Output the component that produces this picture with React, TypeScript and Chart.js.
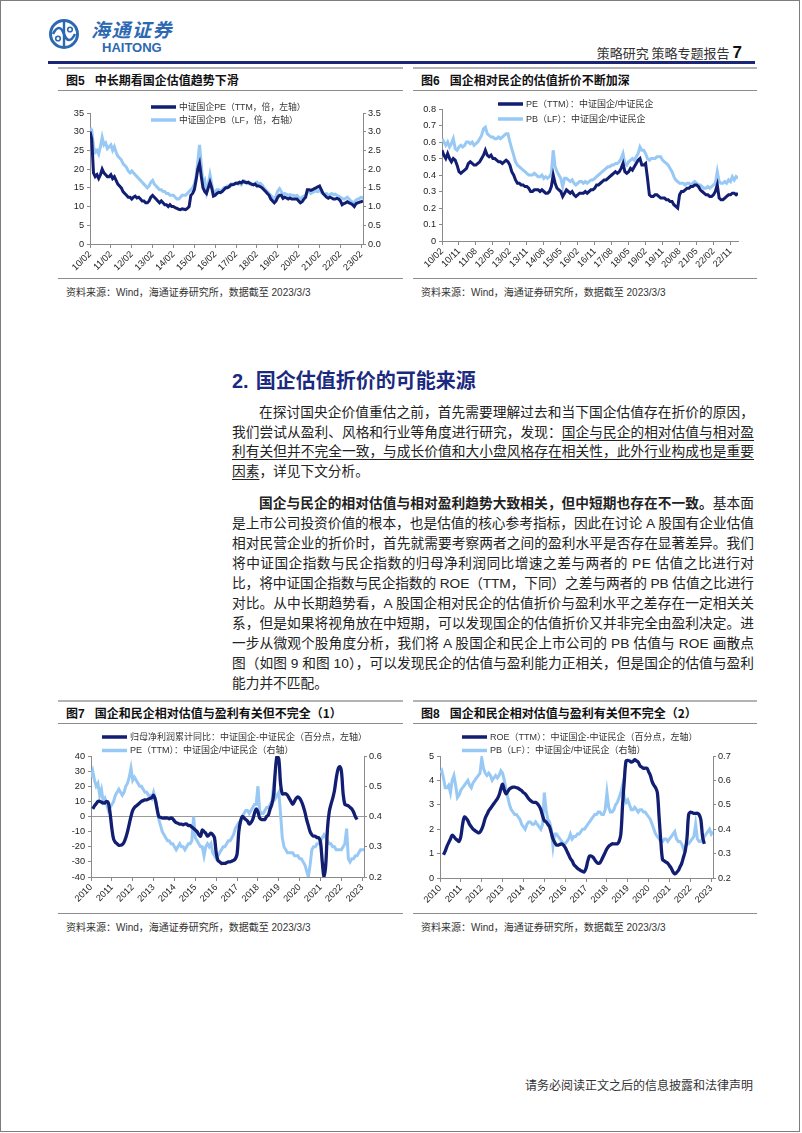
import React, { useEffect, useLayoutEffect, useRef } from 'react';
import { Chart, registerables } from 'chart.js';

Chart.register(...registerables);

// ---------------- DATA ----------------
// Figure 5: monthly, index 0 = 2010-02 ... 157 = 2023-03
const C5_XLABELS = ['10/02', '11/02', '12/02', '13/02', '14/02', '15/02', '16/02', '17/02', '18/02', '19/02', '20/02', '21/02', '22/02', '23/02'];
const C5_PE = [
  30, 28, 19, 18, 18.5, 17.5, 18.5, 20, 19, 18.5, 18,
  18, 18.5, 17.5, 18, 17, 16, 15.5, 15, 14, 13.5, 13, 12.5,
  12.5, 12, 12.5, 12.8, 12.3, 12.5, 12, 11.5, 11.5, 11, 11, 11.5,
  12.5, 13, 12.5, 12, 11.5, 11, 11.5, 11, 10.5, 10.5, 10, 10.5,
  10, 10, 9.7, 9.5, 9.3, 9.2, 9.4, 9.3, 9.2, 9.5, 10, 13,
  13.5, 14.5, 17, 20, 21.5, 18, 15, 14, 13.5, 15, 16.5, 15,
  12.8, 13, 13.5, 13.8, 13.7, 14, 14.5, 15, 15, 15.3, 15.8, 15.8,
  16, 16.3, 16.2, 16.5, 16.3, 16.8, 16.5, 16.3, 16.5, 16.2, 16, 15.8,
  16, 15.5, 15.5, 15.3, 15, 14.5, 14, 13.5, 13, 12, 11.5, 11,
  11.5, 12.5, 13, 13, 12.2, 12.5, 12.3, 12, 12.3, 12, 12, 12,
  12, 11.5, 11, 11.3, 12, 12.5, 14.5, 14.5, 14.3, 14.5, 14.8, 15,
  15.3, 15.5, 14.5, 13.5, 13, 12.5, 12.2, 12.5, 12.3, 12, 12, 12.2,
  12, 11.5, 10.5, 10.8, 11, 11.3, 11, 10.8, 10.5, 10, 10.8, 11,
  11.2, 11.3, 11.5,
];
const C5_PB = [
  3.1, 3.05, 2.6, 2.45, 2.5, 2.4, 2.6, 2.85, 2.65, 2.7, 2.55,
  2.6, 2.65, 2.5, 2.6, 2.45, 2.35, 2.3, 2.25, 2.15, 2.1, 2.05, 1.95,
  1.9, 1.95, 1.9, 1.85, 1.8, 1.75, 1.7, 1.65, 1.6, 1.55, 1.5, 1.55,
  1.65, 1.7, 1.6, 1.55, 1.5, 1.45, 1.45, 1.4, 1.4, 1.35, 1.35, 1.3,
  1.3, 1.3, 1.25, 1.2, 1.2, 1.25, 1.3, 1.3, 1.3, 1.35, 1.4, 1.45,
  1.5, 1.6, 1.8, 2.2, 2.65, 2.1, 1.6, 1.7, 1.4, 1.6, 1.85, 1.6,
  1.35, 1.4, 1.45, 1.45, 1.4, 1.45, 1.5, 1.5, 1.55, 1.55, 1.6, 1.6,
  1.6, 1.62, 1.6, 1.62, 1.58, 1.65, 1.68, 1.65, 1.62, 1.6, 1.58, 1.6,
  1.62, 1.65, 1.6, 1.62, 1.58, 1.5, 1.45, 1.4, 1.35, 1.3, 1.25, 1.2,
  1.28, 1.42, 1.48, 1.4, 1.32, 1.35, 1.33, 1.3, 1.32, 1.3, 1.3, 1.28,
  1.3, 1.25, 1.2, 1.25, 1.28, 1.3, 1.38, 1.4, 1.35, 1.38, 1.4, 1.42,
  1.4, 1.45, 1.38, 1.35, 1.33, 1.35, 1.3, 1.32, 1.35, 1.32, 1.33, 1.3,
  1.28, 1.25, 1.22, 1.2, 1.22, 1.25, 1.2, 1.15, 1.12, 1.1, 1.18, 1.2,
  1.22, 1.25, 1.23,
];

// Figure 6: monthly, index 0 = 2010-02 ... 157 = 2023-03
const C6_XLABELS = ['10/02', '10/11', '11/08', '12/05', '13/02', '13/11', '14/08', '15/05', '16/02', '16/11', '17/08', '18/05', '19/02', '19/11', '20/08', '21/05', '22/02', '22/11'];
const C6_PE = [
  0.55, 0.52, 0.5, 0.53, 0.5, 0.48, 0.5, 0.49, 0.46, 0.42, 0.41,
  0.42, 0.43, 0.44, 0.47, 0.48, 0.47, 0.46, 0.46, 0.47, 0.48, 0.5, 0.52,
  0.55, 0.52, 0.51, 0.52, 0.5, 0.5, 0.49, 0.48, 0.48, 0.47, 0.48, 0.49,
  0.48, 0.46, 0.42, 0.4, 0.37, 0.35, 0.35, 0.34, 0.34, 0.33, 0.33, 0.32,
  0.3, 0.3, 0.31, 0.31, 0.31, 0.3, 0.31, 0.3, 0.29, 0.29, 0.3, 0.33,
  0.4, 0.35, 0.32, 0.31, 0.3, 0.27, 0.29, 0.31, 0.3, 0.29, 0.3, 0.28,
  0.27, 0.28, 0.29, 0.29, 0.29, 0.3, 0.29, 0.3, 0.31, 0.31, 0.32, 0.34,
  0.34, 0.35, 0.36, 0.37, 0.37, 0.38, 0.39, 0.4, 0.41, 0.42, 0.41, 0.42,
  0.44, 0.47, 0.42, 0.41, 0.42, 0.44, 0.43, 0.45, 0.47, 0.49, 0.5, 0.46,
  0.46, 0.47, 0.38, 0.28, 0.27, 0.27, 0.28, 0.28, 0.27, 0.26, 0.26, 0.26,
  0.25, 0.25, 0.24, 0.24, 0.22, 0.21, 0.2, 0.28, 0.3, 0.3, 0.31, 0.32,
  0.32, 0.33, 0.33, 0.34, 0.34, 0.33, 0.31, 0.3, 0.29, 0.28, 0.28, 0.27,
  0.27, 0.28, 0.3, 0.34, 0.26, 0.25, 0.25, 0.26, 0.27, 0.28, 0.28, 0.29,
  0.29, 0.28, 0.29,
];
const C6_PB = [
  0.62, 0.6, 0.58, 0.6, 0.57, 0.59, 0.62, 0.56, 0.55, 0.57, 0.58,
  0.57, 0.58, 0.6, 0.6, 0.59, 0.6, 0.58, 0.59, 0.6, 0.62, 0.64, 0.68,
  0.69, 0.65, 0.64, 0.63, 0.63, 0.62, 0.62, 0.63, 0.62, 0.63, 0.64, 0.65,
  0.65, 0.6, 0.56, 0.52, 0.48, 0.46, 0.45, 0.44, 0.43, 0.42, 0.41, 0.4,
  0.4, 0.4, 0.41, 0.4, 0.39, 0.39, 0.4, 0.38, 0.39, 0.38, 0.39, 0.41,
  0.55, 0.45, 0.42, 0.4, 0.38, 0.33, 0.38, 0.38, 0.37, 0.36, 0.37, 0.35,
  0.34, 0.35, 0.36, 0.36, 0.35, 0.36, 0.35, 0.36, 0.37, 0.37, 0.38, 0.39,
  0.4, 0.41, 0.42, 0.43, 0.44, 0.45, 0.45, 0.46, 0.46, 0.47, 0.47, 0.48,
  0.5, 0.53, 0.47, 0.46, 0.48, 0.49, 0.5, 0.49, 0.51, 0.53, 0.57, 0.55,
  0.55, 0.53, 0.5, 0.49, 0.5, 0.5, 0.5, 0.51, 0.51, 0.51, 0.49, 0.48,
  0.47, 0.46, 0.44, 0.42, 0.39, 0.37, 0.36, 0.35, 0.35, 0.35, 0.34, 0.35,
  0.35, 0.34, 0.35, 0.36, 0.35, 0.34, 0.34, 0.33, 0.32, 0.32, 0.33, 0.32,
  0.33, 0.34, 0.35, 0.42, 0.36, 0.35, 0.35, 0.36, 0.35, 0.37, 0.36, 0.39,
  0.37, 0.39, 0.38,
];

// Figures 7 & 8: monthly, index 0 = 2010-01 ... 157 = 2023-02
const YEAR_LABELS = ['2010', '2011', '2012', '2013', '2014', '2015', '2016', '2017', '2018', '2019', '2020', '2021', '2022', '2023'];
const C7_PROFIT = [
  null, 5, 7, 8.5, 10, 10, 9.5, 9, 9, 10, 9, 2,
  -8, -15, -17, -18, -19, -19, -18.5, -17, -14, -10, -5, 0,
  4, 6, 7, 8, 9, 10, 10.5, 11, 11, 11.5, 12, 12.5,
  14, 11, 5, 0, -0.5, -1, -1, -1, -1, -1.5, -1, -1.5,
  -3, -4, -4.5, -5, -5, -5.5, -5, -5, -6, -6, -7, -8,
  -9, -10, -12, -13, -9, -10, -11, -13, -12, -11, -12, -14,
  -24, -29, -30, -31, -31, -31, -30.5, -30, -30, -29.5, -29, -28,
  -25, -10, -3, 0, -1, -2, -3, -5, -4, -2, 2, 5,
  3, -1, -2, -2, -2, 0, 1, 5, 8, 14, 30, 40,
  38, 22, 15, 15, 15, 14, 12, 10, 8, 10, 12, 13,
  12, 10, 7, 3, -2, -6, -10, -12, -13, -13, -14, -14,
  -17, -30, -40, -32, -8, 3, 8, 12, 17, 25, 31, 33,
  30, 15, 8, 7.5, 7, 6, 5, 3, 0, -2, null, null,
  null, null,
];
const C7_PE = [
  0.53, 0.55, 0.52, 0.5, 0.51, 0.47, 0.49, 0.45, 0.46, 0.44, 0.42, 0.43,
  0.44, 0.45, 0.47, 0.48, 0.49, 0.48, 0.47, 0.48, 0.5, 0.51, 0.53, 0.56,
  0.52, 0.53, 0.52, 0.51, 0.5, 0.5, 0.49, 0.48, 0.48, 0.47, 0.47, 0.46,
  0.48, 0.46, 0.43, 0.39, 0.37, 0.35, 0.34, 0.33, 0.32, 0.32, 0.31, 0.31,
  0.3, 0.29, 0.3, 0.31, 0.3, 0.3, 0.29, 0.3, 0.31, 0.31, 0.32, 0.4,
  0.33, 0.32, 0.31, 0.3, 0.3, 0.27, 0.3, 0.31, 0.3, 0.31, 0.28, 0.27,
  0.26, 0.27, 0.28, 0.29, 0.3, 0.3, 0.31, 0.32, 0.32, 0.33, 0.34, 0.36,
  0.37, 0.38, 0.38, 0.4, 0.41, 0.42, 0.42, 0.41, 0.42, 0.43, 0.44, 0.44,
  0.5, 0.42, 0.41, 0.41, 0.42, 0.43, 0.43, 0.44, 0.45, 0.5, 0.46, 0.47,
  0.48, 0.41, 0.33, 0.3, 0.29, 0.28, 0.28, 0.28, 0.28, 0.27, 0.27, 0.27,
  0.26, 0.26, 0.25, 0.24, 0.22, 0.2, 0.24, 0.29, 0.3, 0.3, 0.31, 0.31,
  0.32, 0.33, 0.34, 0.33, 0.32, 0.31, 0.31, 0.3, 0.3, 0.29, 0.29, 0.29,
  0.29, 0.3, 0.31, 0.36, 0.26, 0.25, 0.26, 0.26, 0.27, 0.27, 0.28, 0.29,
  0.29, 0.29,
];
const C8_ROE = [
  null, null, 0.95, 1.1, 1.3, 1.45, 1.6, 1.75, 1.7, 1.6, 1.55, 1.5,
  1.7, 2.2, 2.5, 2.45, 2.35, 2.2, 2.1, 2.0, 1.95, 1.9, 1.85, 1.88,
  2.0, 2.2, 2.45, 2.6, 2.75, 2.85, 2.95, 3.05, 3.15, 3.25, 3.4, 3.65,
  3.85, 3.6, 3.45, 3.55, 3.65, 3.7, 3.72, 3.72, 3.7, 3.68, 3.62, 3.58,
  3.5, 3.45, 3.35, 3.25, 3.18, 3.12, 3.1, 3.1, 3.05, 2.95, 2.8, 2.55,
  2.35, 2.3, 2.2, 2.1, 1.85, 1.6, 1.45, 1.35, 1.35, 1.38, 1.4, 1.35,
  1.25, 1.1, 0.95, 0.8, 0.7, 0.55, 0.48, 0.4, 0.35, 0.3, 0.27, 0.25,
  0.4, 0.7, 0.9, 0.9, 0.85, 0.75, 0.65, 0.6, 0.62, 0.75, 0.9, 1.05,
  1.2, 1.3, 1.35, 1.4, 1.4, 1.4, 1.4, 1.5, 1.8, 3.0, 4.0, 4.8,
  4.82, 4.8, 4.75, 4.78, 4.85, 4.8, 4.75, 4.6, 4.55, 4.5, 4.5, 4.5,
  4.35, 4.2, 3.95, 3.8, 3.7, 3.5, 2.5, 1.5, 0.75, 0.7, 0.65, 0.6,
  0.5, 0.4, 0.25, 0.17, 0.22, 0.3, 0.45, 0.6, 0.85, 1.1, 1.6, 2.6,
  2.7, 2.68, 2.65, 2.65, 2.65, 2.6, 2.4, 1.7, 1.4, null, null, null,
  null, null,
];
const C8_PB = [
  0.63, 0.64, 0.61, 0.57, 0.57, 0.58, 0.55, 0.6, 0.62, 0.58, 0.53, 0.54,
  0.56, 0.57, 0.58, 0.59, 0.6, 0.58, 0.57, 0.59, 0.6, 0.61, 0.62, 0.63,
  0.69, 0.65, 0.63, 0.62, 0.63, 0.62, 0.6, 0.61, 0.62, 0.61, 0.62, 0.64,
  0.63, 0.6, 0.56, 0.53, 0.5, 0.48, 0.47, 0.46, 0.46, 0.45, 0.44, 0.42,
  0.41, 0.4, 0.42, 0.43, 0.43, 0.42, 0.42, 0.43, 0.42, 0.41, 0.4, 0.42,
  0.55, 0.48, 0.44, 0.43, 0.4, 0.33, 0.38, 0.38, 0.37, 0.36, 0.35, 0.34,
  0.34, 0.35, 0.36, 0.38, 0.36, 0.37, 0.37, 0.38, 0.38, 0.39, 0.4, 0.4,
  0.41, 0.42, 0.43, 0.44, 0.45, 0.46, 0.46, 0.47, 0.47, 0.46, 0.46, 0.48,
  0.55, 0.49, 0.47, 0.47, 0.48, 0.5, 0.51, 0.53, 0.55, 0.58, 0.53, 0.51,
  0.52, 0.5, 0.48, 0.48, 0.49, 0.48, 0.47, 0.48, 0.48, 0.47, 0.47, 0.46,
  0.45, 0.44, 0.42, 0.4, 0.38, 0.37, 0.36, 0.35, 0.35, 0.36, 0.36, 0.35,
  0.36, 0.37, 0.38, 0.39, 0.36, 0.35, 0.35, 0.34, 0.32, 0.33, 0.34, 0.34,
  0.35, 0.36, 0.37, 0.42, 0.36, 0.35, 0.35, 0.36, 0.37, 0.38, 0.39, 0.4,
  0.38, 0.39,
];

// ---------------- STYLE ----------------
const NAVY = '#111e72';
const LIGHT = '#98c8f4';
const AXIS = '#8a8a8a';
const TICK_COLOR = '#222';
const NUM_FONT = "'Liberation Sans', Arial, sans-serif";
const MIX_FONT = "'Liberation Sans', 'Noto Sans CJK SC', sans-serif";
const CJK_FONT = "'Noto Sans CJK SC', 'Liberation Sans', sans-serif";
const TICK_SIZE = 9.2;

const toXY = (arr: (number | null)[]) => arr.map((v, i) => ({ x: i, y: v }));

const legendPlugin = {
  id: 'customLegend',
  afterDraw(chart: any, _args: any, opts: any) {
    const { ctx } = chart;
    ctx.save();
    chart.data.datasets.forEach((ds: any, i: number) => {
      const y = opts.y + i * opts.rowH;
      ctx.strokeStyle = ds.borderColor;
      ctx.lineWidth = 3.5;
      ctx.lineCap = 'butt';
      ctx.beginPath();
      ctx.moveTo(opts.x, y);
      ctx.lineTo(opts.x + 25, y);
      ctx.stroke();
      ctx.fillStyle = '#333';
      ctx.font = `${opts.size}px ${MIX_FONT}`;
      ctx.textBaseline = 'middle';
      ctx.textAlign = 'left';
      ctx.fillText(ds.label, opts.x + 28, y + 0.5);
    });
    ctx.restore();
  },
};

function xAxis(labels: string[], step: number, max: number, height: number) {
  return {
    type: 'linear',
    min: 0,
    max,
    afterBuildTicks: (ax: any) => {
      ax.ticks = labels.map((_l, i) => ({ value: i * step }));
    },
    afterFit: (ax: any) => {
      ax.height = height;
    },
    ticks: {
      autoSkip: false,
      maxRotation: 45,
      minRotation: 45,
      padding: 1,
      color: TICK_COLOR,
      font: { family: NUM_FONT, size: TICK_SIZE },
      callback: (_v: any, i: number) => labels[i],
    },
    grid: { display: true, drawOnChartArea: false, tickLength: 4, tickColor: AXIS, color: AXIS },
    border: { display: true, color: AXIS, width: 1 },
  };
}

function yAxis(position: string, min: number, max: number, step: number, width: number, decimals: number | null, zeroLine = false) {
  return {
    type: 'linear',
    position,
    min,
    max,
    afterFit: (ax: any) => {
      ax.width = width;
    },
    ticks: {
      stepSize: step,
      padding: position === 'left' ? 3 : 2,
      color: TICK_COLOR,
      font: { family: NUM_FONT, size: TICK_SIZE },
      callback: (v: number) => (decimals === null ? String(Math.round(v * 100) / 100) : v.toFixed(decimals)),
    },
    grid: {
      display: true,
      drawOnChartArea: zeroLine,
      tickLength: 3,
      tickColor: AXIS,
      color: (c: any) => (zeroLine && c.tick && c.tick.value === 0 ? '#9a9a9a' : 'rgba(0,0,0,0)'),
    },
    border: { display: true, color: AXIS, width: 1 },
  };
}

function lineDs(label: string, values: (number | null)[], color: string, axis: string, tension = 0, width = 3) {
  return {
    label,
    data: toXY(values),
    borderColor: color,
    backgroundColor: color,
    borderWidth: width,
    pointRadius: 0,
    tension,
    yAxisID: axis,
    spanGaps: false,
  };
}

function baseOptions(padding: any, legend: any, scales: any) {
  return {
    responsive: false,
    maintainAspectRatio: false,
    animation: false,
    events: [],
    layout: { padding },
    plugins: { legend: { display: false }, tooltip: { enabled: false }, customLegend: legend },
    scales,
  };
}

const config5 = () => ({
  type: 'line',
  data: {
    datasets: [
      lineDs('中证国企PE（TTM，倍，左轴）', C5_PE, NAVY, 'y'),
      lineDs('中证国企PB（LF，倍，右轴）', C5_PB, LIGHT, 'y2'),
    ],
  },
  options: baseOptions({ top: 18, left: 0, right: 0, bottom: 0 }, { x: 91, y: 12, rowH: 13, size: 8.8 }, {
    x: xAxis(C5_XLABELS, 12, 157, 31),
    y: yAxis('left', 0, 35, 5, 30, 0),
    y2: yAxis('right', 0, 3.5, 0.5, 27, 1),
  }),
  plugins: [legendPlugin],
});

const config6 = () => ({
  type: 'line',
  data: {
    datasets: [
      lineDs('PE（TTM）：中证国企/中证民企', C6_PE, NAVY, 'y'),
      lineDs('PB（LF）：中证国企/中证民企', C6_PB, LIGHT, 'y'),
    ],
  },
  options: baseOptions({ top: 14, left: 0, right: 7, bottom: 0 }, { x: 88, y: 9, rowH: 15, size: 9 }, {
    x: xAxis(C6_XLABELS, 9, 157, 34),
    y: yAxis('left', 0, 0.8, 0.1, 32, null),
  }),
  plugins: [legendPlugin],
});

const config7 = () => ({
  type: 'line',
  data: {
    datasets: [
      lineDs('归母净利润累计同比：中证国企-中证民企（百分点，左轴）', C7_PROFIT, NAVY, 'y', 0.35, 3.3),
      lineDs('PE（TTM）：中证国企/中证民企（右轴）', C7_PE, LIGHT, 'y2'),
    ],
  },
  options: baseOptions({ top: 28, left: 0, right: 0, bottom: 0 }, { x: 42, y: 9, rowH: 13.5, size: 9 }, {
    x: xAxis(YEAR_LABELS, 12, 157, 31),
    y: yAxis('left', -40, 40, 10, 31, 0, true),
    y2: yAxis('right', 0.2, 0.6, 0.1, 26, 1),
  }),
  plugins: [legendPlugin],
});

const config8 = () => ({
  type: 'line',
  data: {
    datasets: [
      lineDs('ROE（TTM）：中证国企-中证民企（百分点，左轴）', C8_ROE, NAVY, 'y', 0.35, 3.3),
      lineDs('PB（LF）：中证国企/中证民企（右轴）', C8_PB, LIGHT, 'y2'),
    ],
  },
  options: baseOptions({ top: 28, left: 0, right: 0, bottom: 0 }, { x: 52, y: 9, rowH: 13.5, size: 9 }, {
    x: xAxis(YEAR_LABELS, 12, 157, 30),
    y: yAxis('left', 0, 5, 1, 30, 0),
    y2: yAxis('right', 0.2, 0.7, 0.1, 32, 1),
  }),
  plugins: [legendPlugin],
});

function ChartCanvas({ make, left, top, width, height }: { make: () => any; left: number; top: number; width: number; height: number }) {
  const ref = useRef<HTMLCanvasElement>(null);
  useEffect(() => {
    const chart = new Chart(ref.current as HTMLCanvasElement, make());
    return () => chart.destroy();
  }, []);
  return <canvas ref={ref} width={width} height={height} style={{ position: 'absolute', left, top, width, height }} />;
}

// ---------------- PAGE PIECES ----------------
const abs = (o: any) => ({ position: 'absolute', ...o });

function Panel({ left, width, top, titleNo, title, bottom }: any) {
  return (
    <>
      <div style={abs({ left, top, width, height: 2, background: '#b4b4b4' })} />
      <div style={abs({ left: left + 8, top: top + 4, height: 18, lineHeight: '18px', fontSize: 12, fontWeight: 700, color: '#111', whiteSpace: 'nowrap', fontFamily: CJK_FONT })}>
        <span>{'图'}</span>
        <span style={{ fontFamily: NUM_FONT }}>{titleNo}</span>
        <span style={{ marginLeft: 10 }}>{title}</span>
      </div>
      <div style={abs({ left, top: top + 23, width, height: 1, background: '#8c8c8c' })} />
      <div style={abs({ left, top: bottom, width, height: 1, background: '#8c8c8c' })} />
      <div style={abs({ left: left + 8, top: bottom + 8, height: 14, lineHeight: '14px', fontSize: 10, color: '#333', whiteSpace: 'nowrap', fontFamily: MIX_FONT })}>
        资料来源：Wind，海通证券研究所，数据截至 2023/3/3
      </div>
    </>
  );
}

type Seg = { t: string; u?: boolean; b?: boolean };
const P1: Seg[][] = [
  [{ t: '在探讨国央企价值重估之前，首先需要理解过去和当下国企估值存在折价的原因，' }],
  [{ t: '我们尝试从盈利、风格和行业等角度进行研究，发现：' }, { t: '国企与民企的相对估值与相对盈', u: true }],
  [{ t: '利有关但并不完全一致，与成长价值和大小盘风格存在相关性，此外行业构成也是重要', u: true }],
  [{ t: '因素', u: true }, { t: '，详见下文分析。' }],
];
const P2: Seg[][] = [
  [{ t: '国企与民企的相对估值与相对盈利趋势大致相关，但中短期也存在不一致。', b: true }, { t: '基本面' }],
  [{ t: '是上市公司投资价值的根本，也是估值的核心参考指标，因此在讨论 A 股国有企业估值' }],
  [{ t: '相对民营企业的折价时，首先就需要考察两者之间的盈利水平是否存在显著差异。我们' }],
  [{ t: '将中证国企指数与民企指数的归母净利润同比增速之差与两者的 PE 估值之比进行对' }],
  [{ t: '比，将中证国企指数与民企指数的 ROE（TTM，下同）之差与两者的 PB 估值之比进行' }],
  [{ t: '对比。从中长期趋势看，A 股国企相对民企的估值折价与盈利水平之差存在一定相关关' }],
  [{ t: '系，但是如果将视角放在中短期，可以发现国企的估值折价又并非完全由盈利决定。进' }],
  [{ t: '一步从微观个股角度分析，我们将 A 股国企和民企上市公司的 PB 估值与 ROE 画散点' }],
  [{ t: '图（如图 9 和图 10），可以发现民企的估值与盈利能力正相关，但是国企的估值与盈利' }],
  [{ t: '能力并不匹配。' }],
];

const TEXT_LEFT = 232;
const TEXT_WIDTH = 522;
const INDENT = 27;

// fits each full line exactly to the text column (justified look) by tuning letter spacing
function JustLine({ segs, top, lh, first, last }: { segs: Seg[]; top: number; lh: number; first: boolean; last: boolean }) {
  const inner = useRef<HTMLSpanElement>(null);
  useLayoutEffect(() => {
    const el = inner.current;
    if (!el || last) return;
    const fit = () => {
      el.style.letterSpacing = '0px';
      el.style.marginRight = '0px';
      const w = el.getBoundingClientRect().width;
      const avail = TEXT_WIDTH - (first ? INDENT : 0);
      const n = segs.reduce((a, s) => a + Array.from(s.t).length, 0);
      const ls = (avail - w) / Math.max(1, n - 1);
      el.style.letterSpacing = `${ls}px`;
      el.style.marginRight = `${-ls}px`;
    };
    fit();
    (document as any).fonts?.ready?.then(fit);
  }, []);
  return (
    <div
      style={abs({
        left: TEXT_LEFT + (first ? INDENT : 0),
        top,
        height: lh,
        lineHeight: `${lh}px`,
        fontSize: 13.7,
        color: '#222',
        fontFamily: MIX_FONT,
        whiteSpace: 'nowrap',
        textAutospace: 'no-autospace',
      })}
    >
      <span ref={inner}>
        {segs.map((s, j) => (
          <span key={j} style={{ textDecoration: s.u ? 'underline' : 'none', textUnderlineOffset: 3, fontWeight: s.b ? 700 : 400 }}>
            {s.t}
          </span>
        ))}
      </span>
    </div>
  );
}

function Para({ lines, top, lh }: { lines: Seg[][]; top: number; lh: number }) {
  return (
    <>
      {lines.map((segs, i) => (
        <JustLine key={i} segs={segs} top={top + i * lh} lh={lh} first={i === 0} last={i === lines.length - 1} />
      ))}
    </>
  );
}

function Logo() {
  const c = '#2c69b2';
  return (
    <svg width={34} height={32} viewBox="0 0 34 32" style={abs({ left: 47, top: 18 })}>
      <circle cx={17} cy={16} r={13.5} fill="none" stroke={c} strokeWidth={3} />
      <path d="M6 16 C 10 8, 14 8, 17 16 C 20 24, 24 24, 28 16" fill="none" stroke={c} strokeWidth={2.6} />
      <path d="M17 4 L17 28" stroke={c} strokeWidth={2.4} />
      <circle cx={11} cy={20.5} r={2.3} fill="none" stroke={c} strokeWidth={1.6} />
      <circle cx={23} cy={11.5} r={2.3} fill="none" stroke={c} strokeWidth={1.6} />
    </svg>
  );
}

export default function App() {
  useEffect(() => {
    document.body.style.margin = '0';
  }, []);
  return (
    <div style={{ position: 'absolute', left: 0, top: 0, width: 802, height: 1133, background: '#fff', overflow: 'hidden' }}>
      <div style={abs({ left: 0, top: 0, width: 800, height: 1132, border: '1px solid #7d7d7d', boxSizing: 'border-box' })} />

      {/* header */}
      <Logo />
      <div style={abs({ left: 91, top: 18, fontSize: 19, lineHeight: '22px', color: '#2c69b2', fontStyle: 'italic', fontWeight: 700, letterSpacing: 1.5, fontFamily: CJK_FONT, whiteSpace: 'nowrap' })}>海通证券</div>
      <div style={abs({ left: 102, top: 41, fontSize: 13, lineHeight: '14px', color: '#2c69b2', fontWeight: 700, fontFamily: NUM_FONT })}>HAITONG</div>
      <div style={abs({ right: 60, top: 44, lineHeight: '18px', whiteSpace: 'nowrap', color: '#333' })}>
        <span style={{ fontSize: 13, fontFamily: CJK_FONT }}>策略研究 策略专题报告 </span>
        <span style={{ fontSize: 17, fontWeight: 700, fontFamily: NUM_FONT, color: '#111' }}>7</span>
      </div>
      <div style={abs({ left: 48, top: 61, width: 707, height: 2.5, background: '#1b2677' })} />

      {/* figure 5 & 6 */}
      <Panel left={58} width={345} top={67} titleNo="5" title="中长期看国企估值趋势下滑" bottom={278} />
      <Panel left={413} width={344} top={67} titleNo="6" title="国企相对民企的估值折价不断加深" bottom={278} />
      <ChartCanvas make={config5} left={60} top={95} width={330} height={180} />
      <ChartCanvas make={config6} left={410} top={95} width={335} height={180} />

      {/* section text */}
      <div style={abs({ left: 232, top: 366, height: 28, lineHeight: '28px', fontSize: 20, fontWeight: 700, color: '#1b2a80', whiteSpace: 'nowrap', fontFamily: CJK_FONT })}>
        <span style={{ fontFamily: NUM_FONT }}>2.</span>
        <span style={{ marginLeft: 7 }}>国企估值折价的可能来源</span>
      </div>
      <Para lines={P1} top={403} lh={19.7} />
      <Para lines={P2} top={494} lh={20} />

      {/* figure 7 & 8 */}
      <Panel left={58} width={345} top={700} titleNo="7" title="国企和民企相对估值与盈利有关但不完全（1）" bottom={913} />
      <Panel left={413} width={344} top={700} titleNo="8" title="国企和民企相对估值与盈利有关但不完全（2）" bottom={913} />
      <ChartCanvas make={config7} left={60} top={728} width={330} height={180} />
      <ChartCanvas make={config8} left={410} top={728} width={335} height={180} />

      {/* footer */}
      <div style={abs({ right: 49, top: 1077, fontSize: 12, lineHeight: '16px', color: '#333', fontFamily: CJK_FONT, whiteSpace: 'nowrap' })}>请务必阅读正文之后的信息披露和法律声明</div>
    </div>
  );
}
